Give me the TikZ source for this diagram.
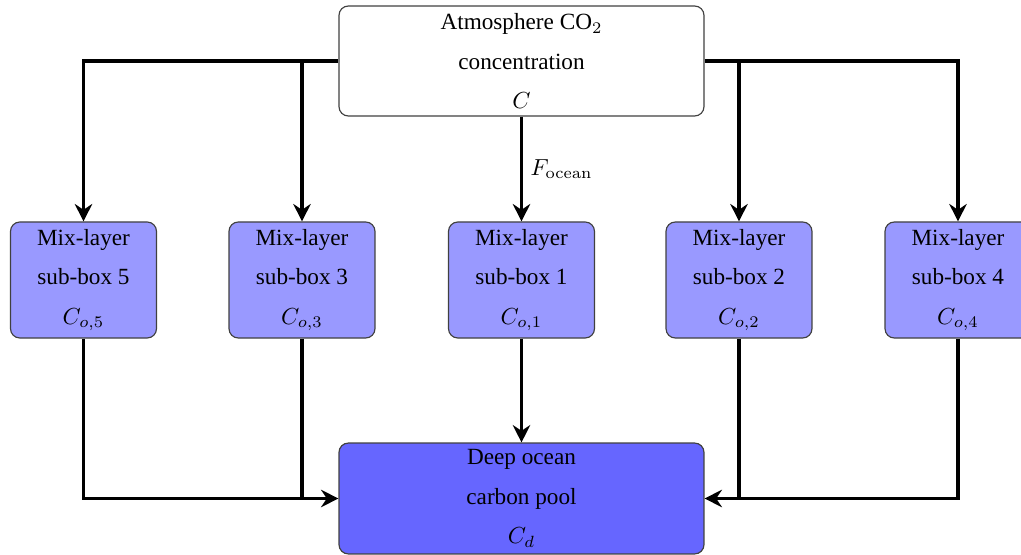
\documentclass[tikz,border=0pt]{standalone}
\usepackage[no-math]{fontspec}
\setmainfont{Liberation Serif}
\usetikzlibrary{arrows.meta}
\begin{document}
\begin{tikzpicture}[x=0.431pt,y=-0.431pt,
  box/.style={draw=black!75,line width=0.5pt,rounded corners=4pt,align=center,
    inner sep=0pt,font=\fontsize{10}{17}\selectfont},
  subbox/.style={box,fill=blue!40,minimum width=62.9pt,minimum height=50pt},
  arr/.style={line width=1.3pt,-{Stealth[length=7.5pt,width=7.5pt,inset=2.5pt]}},
  ln/.style={line width=1.3pt}]
\useasboundingbox (0,0) rectangle (1021,555);
\node[box,fill=white,minimum width=157.3pt,minimum height=47.4pt] (top) at (521.5,61)
  {Atmosphere CO$_2$\\concentration\\$C$};
\node[subbox] (b5) at (83.5,280) {Mix-layer\\sub-box 5\\$C_{o,5}$};
\node[subbox] (b3) at (302,280) {Mix-layer\\sub-box 3\\$C_{o,3}$};
\node[subbox] (b1) at (521.5,280) {Mix-layer\\sub-box 1\\$C_{o,1}$};
\node[subbox] (b2) at (739,280) {Mix-layer\\sub-box 2\\$C_{o,2}$};
\node[subbox] (b4) at (958,280) {Mix-layer\\sub-box 4\\$C_{o,4}$};
\node[box,fill=blue!60,minimum width=157.3pt,minimum height=47.8pt] (deep) at (521.5,498.5)
  {Deep ocean\\carbon pool\\$C_d$};
% top connections
\draw[arr] (top.west) -| (b5.north);
\draw[arr] (b3.north |- top.west) -- (b3.north);
\draw[arr] (top.east) -| (b4.north);
\draw[arr] (b2.north |- top.east) -- (b2.north);
\draw[arr] (top.south) -- node[right,font=\fontsize{10}{12}\selectfont] {$F_{\mathrm{ocean}}$} (b1.north);
% bottom connections
\draw[arr] (b5.south) |- (deep.west);
\draw[ln] (b3.south) -- (b3.south |- deep.west);
\draw[arr] (b4.south) |- (deep.east);
\draw[ln] (b2.south) -- (b2.south |- deep.east);
\draw[arr] (b1.south) -- (deep.north);
\end{tikzpicture}
\end{document}
